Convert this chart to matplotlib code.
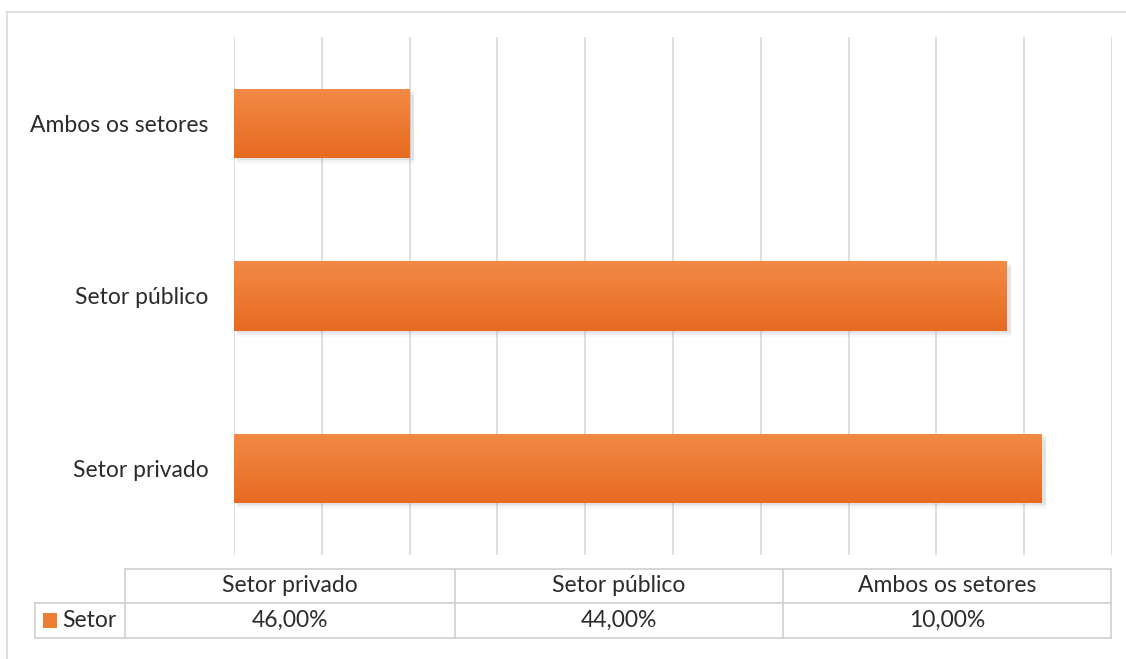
import matplotlib.pyplot as plt
import numpy as np
from matplotlib.patches import Rectangle
from matplotlib.lines import Line2D

categories = ['Setor privado', 'Setor público', 'Ambos os setores']
values = [46.0, 44.0, 10.0]
series_name = 'Setor'
value_labels = ['46,00%', '44,00%', '10,00%']

plt.rcParams['font.family'] = ['Lato', 'DejaVu Sans']

W, H = 1126, 659
fig = plt.figure(figsize=(W / 100, H / 100), dpi=100)

def fx(px):
    return px / W

def fy(py):
    return 1 - py / H

txt = '#2b2b2b'
fs = 16.5

# outer frame (top and left edges visible)
fig.add_artist(Line2D([fx(7), 1], [fy(12), fy(12)], color='#d9d9d9', lw=1.2))
fig.add_artist(Line2D([fx(7), fx(7)], [fy(12), 0], color='#d9d9d9', lw=1.2))

ax = fig.add_axes([fx(234), fy(555), fx(1112) - fx(234), fy(37) - fy(555)])
for s in ax.spines.values():
    s.set_visible(False)
ax.set_xticks(np.arange(0, 51, 5))
ax.set_xticklabels([])
ax.tick_params(length=0)
ax.grid(axis='x', color='#d9d9d9', lw=1.2)
ax.set_axisbelow(True)
ax.set_yticks(range(len(categories)))
ax.set_yticklabels(categories, fontsize=fs, color=txt)
ax.tick_params(axis='y', pad=18.5)

# orange bars with a vertical gradient and soft shadow
grad = np.linspace(0, 1, 100).reshape(-1, 1)
cmap = plt.matplotlib.colors.LinearSegmentedColormap.from_list(
    'og', ['#f28a45', '#ec7a33', '#e86a22'])
bh = 0.4
for i, v in enumerate(values):
    for k, a in enumerate([0.10, 0.07, 0.04]):
        ax.add_patch(Rectangle((0.15, i - bh / 2 - 0.012 * (k + 1)), v + 0.1, bh,
                               facecolor='#7f7f7f', alpha=a, lw=0, zorder=2))
    bar = ax.barh(i, v, height=bh, color='#ed7d31', zorder=3)[0]
    im = ax.imshow(grad, extent=(0, v, i - bh / 2, i + bh / 2), cmap=cmap,
                   aspect='auto', origin='upper', zorder=4)
    im.set_clip_path(bar)

ax.set_xlim(0, 50)
ax.set_ylim(-0.5, len(categories) - 0.5)

# data table under the plot
tc = '#d0d0d0'
col_edges = [125, 455, 783, 1111]
y_top, y_mid, y_bot = 569, 603, 638
leg_left = 35
fig.add_artist(Line2D([fx(col_edges[0]), fx(col_edges[-1])], [fy(y_top)] * 2, color=tc, lw=1.2))
fig.add_artist(Line2D([fx(leg_left), fx(col_edges[-1])], [fy(y_mid)] * 2, color=tc, lw=1.2))
fig.add_artist(Line2D([fx(leg_left), fx(col_edges[-1])], [fy(y_bot)] * 2, color=tc, lw=1.2))
fig.add_artist(Line2D([fx(leg_left)] * 2, [fy(y_mid), fy(y_bot)], color=tc, lw=1.2))
for xe in col_edges:
    fig.add_artist(Line2D([fx(xe)] * 2, [fy(y_top), fy(y_bot)], color=tc, lw=1.2))

for j, (cat, lab) in enumerate(zip(categories, value_labels)):
    xc = (col_edges[j] + col_edges[j + 1]) / 2
    fig.text(fx(xc), fy((y_top + y_mid) / 2), cat, ha='center', va='center',
             fontsize=fs, color=txt)
    fig.text(fx(xc), fy((y_mid + y_bot) / 2), lab, ha='center', va='center',
             fontsize=fs, color=txt)

fig.add_artist(Rectangle((fx(43), fy(628)), fx(14), fy(613) - fy(628),
                         facecolor='#ed7d31', lw=0))
fig.text(fx(62), fy((y_mid + y_bot) / 2), series_name, ha='left', va='center',
         fontsize=fs, color=txt)

fig.savefig('out.png', dpi=100)
